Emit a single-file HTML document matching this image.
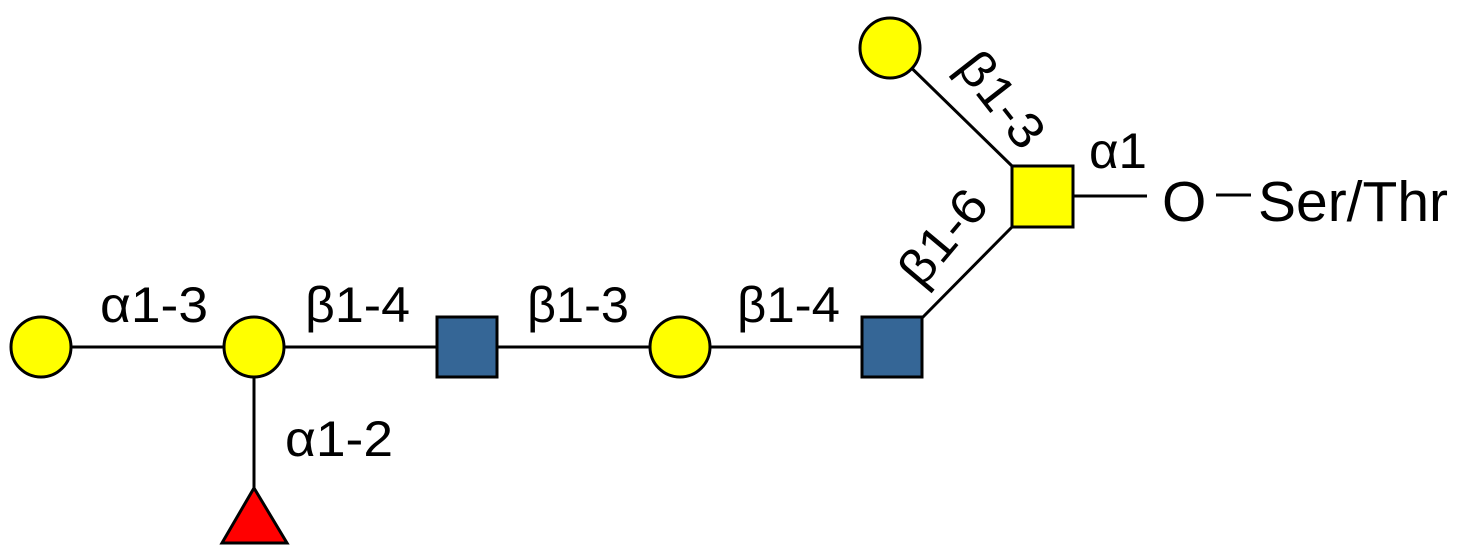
<!DOCTYPE html>
<html><head><meta charset="utf-8"><style>
html,body{margin:0;padding:0;background:#fff;}
svg{display:block;}
text{font-family:"Liberation Sans",Arial,sans-serif;fill:#000;}
</style></head><body>
<svg width="1463" height="553" viewBox="0 0 1463 553" xmlns="http://www.w3.org/2000/svg">
<g stroke="#000" stroke-width="3" fill="none">
<line x1="41" y1="347" x2="254" y2="347"/>
<line x1="254" y1="347" x2="467" y2="347"/>
<line x1="467" y1="347" x2="680" y2="347"/>
<line x1="680" y1="347" x2="892" y2="347"/>
<line x1="254" y1="347" x2="254" y2="490"/>
<line x1="922" y1="318" x2="1012" y2="227"/>
<line x1="891" y1="48" x2="1012" y2="166"/>
<line x1="1073" y1="196" x2="1147" y2="196"/>
<line x1="1216" y1="195" x2="1251" y2="195"/>
</g>
<g stroke="#000" stroke-width="3">
<circle cx="41" cy="347" r="30" fill="#ffff00"/>
<circle cx="254" cy="347" r="30" fill="#ffff00"/>
<circle cx="680" cy="347" r="30" fill="#ffff00"/>
<circle cx="890" cy="48" r="30" fill="#ffff00"/>
<rect x="437" y="317" width="60" height="60" fill="#356696"/>
<rect x="862" y="317" width="60" height="60" fill="#356696"/>
<rect x="1012" y="166" width="61" height="61" fill="#ffff00"/>
<polygon points="254,488 222,543 287,543" fill="#ff0000"/>
</g>
<g font-size="50">
<text x="100" y="322" textLength="108" lengthAdjust="spacingAndGlyphs">α1-3</text>
<text x="305" y="322" textLength="105" lengthAdjust="spacingAndGlyphs">β1-4</text>
<text x="527" y="322" textLength="102" lengthAdjust="spacingAndGlyphs">β1-3</text>
<text x="737" y="322" textLength="103" lengthAdjust="spacingAndGlyphs">β1-4</text>
<text x="285" y="456" textLength="108" lengthAdjust="spacingAndGlyphs">α1-2</text>
<text x="1089" y="168" textLength="58" lengthAdjust="spacingAndGlyphs">α1</text>
<text x="0" y="0" text-anchor="middle" textLength="108" lengthAdjust="spacingAndGlyphs" transform="translate(988,110) rotate(52)">β1-3</text>
<text x="0" y="0" text-anchor="middle" textLength="108" lengthAdjust="spacingAndGlyphs" transform="translate(956,248) rotate(-50)">β1-6</text>
</g>
<g font-size="57">
<text x="1162" y="221">O</text>
<text x="1258" y="221" textLength="190" lengthAdjust="spacingAndGlyphs">Ser/Thr</text>
</g>
</svg>
</body></html>
